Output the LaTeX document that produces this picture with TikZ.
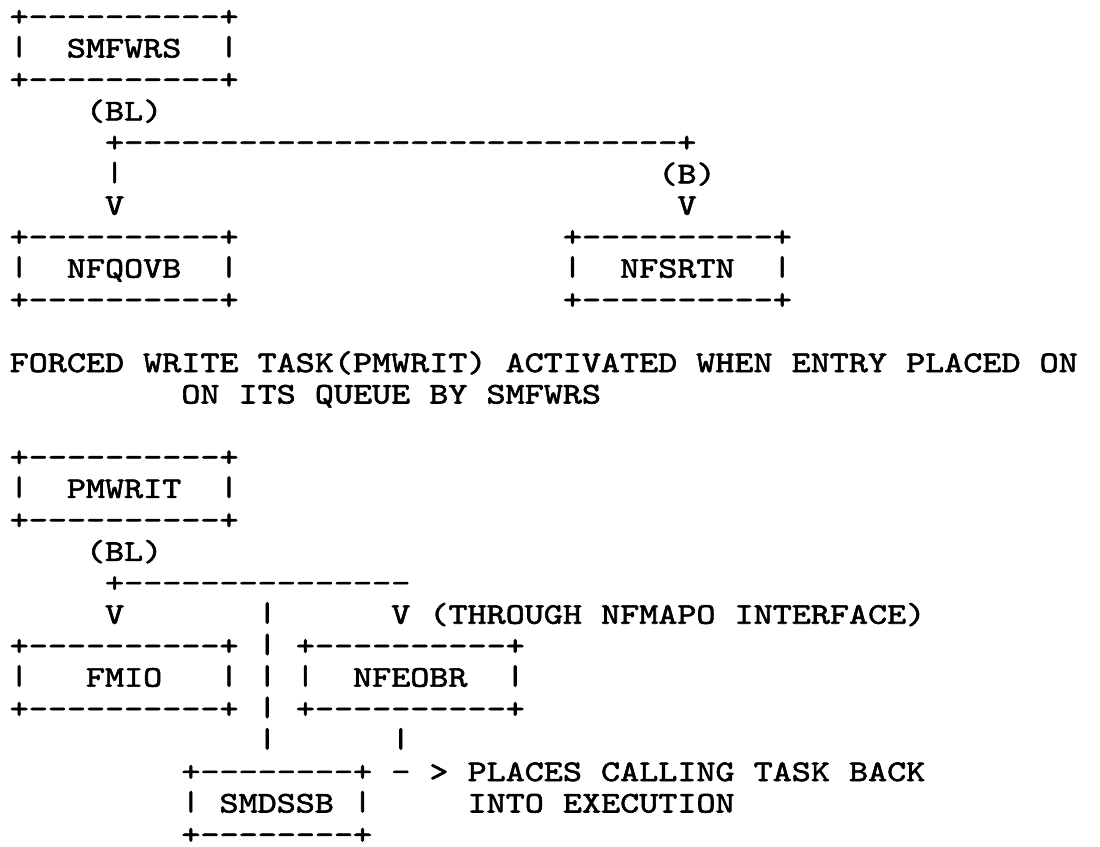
\documentclass[tikz,border=0pt]{standalone}
\usepackage{fontspec}
\usepackage{graphicx}
\setmonofont{lmmono10-regular.otf}[FakeStretch=1.211, FakeBold=2]
% short typewriter bar
\newcommand\vbar{\raisebox{\depth}{\scalebox{1}[0.92]{|}}}
\tikzset{
  tw/.style={anchor=base west, inner sep=0pt, text depth=0pt,
    font=\ttfamily\fontsize{30}{31.46}\selectfont}
}
\begin{document}
\begin{tikzpicture}[x=19.08pt, y=-31.46pt]
    \useasboundingbox (-9.46pt,26pt) rectangle (1090.54pt,-820pt);
    % SMFWRS box
    \node[tw] (smfwrs-top) at (0,0) {+----------+};
    \node[tw] (smfwrs) at (0,1) {\vbar\ \ SMFWRS\ \ \vbar};
    \node[tw] (smfwrs-bot) at (0,2) {+----------+};
    % branch to NFQOVB and NFSRTN
    \node[tw] (bl1) at (4,3) {(BL)};
    \node[tw] (split1) at (5,4) {+-----------------------------+};
    \node[tw] (stem1) at (5,5) {\vbar};
    \node[tw] (b1) at (34,5) {(B)};
    \node[tw] (arr1) at (5,6) {V};
    \node[tw] (arr2) at (35,6) {V};
    % NFQOVB box
    \node[tw] (nfqovb-top) at (0,7) {+----------+};
    \node[tw] (nfqovb) at (0,8) {\vbar\ \ NFQOVB\ \ \vbar};
    \node[tw] (nfqovb-bot) at (0,9) {+----------+};
    % NFSRTN box
    \node[tw] (nfsrtn-top) at (29,7) {+----------+};
    \node[tw] (nfsrtn) at (29,8) {\vbar\ \ NFSRTN\ \ \vbar};
    \node[tw] (nfsrtn-bot) at (29,9) {+----------+};
    % Note
    \node[tw] (note1) at (0,11) {FORCED WRITE TASK(PMWRIT) ACTIVATED WHEN ENTRY PLACED ON};
    \node[tw] (note2) at (9,12) {ON ITS QUEUE BY SMFWRS};
    % PMWRIT box
    \node[tw] (pmwrit-top) at (0,14) {+----------+};
    \node[tw] (pmwrit) at (0,15) {\vbar\ \ PMWRIT\ \ \vbar};
    \node[tw] (pmwrit-bot) at (0,16) {+----------+};
    % branch to FMIO and NFEOBR
    \node[tw] (bl2) at (4,17) {(BL)};
    \node[tw] (split2) at (5,18) {+---------------};
    \node[tw] (arr3) at (5,19) {V};
    \node[tw] (arr4) at (20,19) {V (THROUGH NFMAPO INTERFACE)};
    \foreach \r in {19,...,23}
      \node[tw] (link\r) at (13,\r) {\vbar};
    % FMIO box
    \node[tw] (fmio-top) at (0,20) {+----------+};
    \node[tw] (fmio) at (0,21) {\vbar\ \ \ FMIO\ \ \ \vbar};
    \node[tw] (fmio-bot) at (0,22) {+----------+};
    % NFEOBR box
    \node[tw] (nfeobr-top) at (15,20) {+----------+};
    \node[tw] (nfeobr) at (15,21) {\vbar\ \ NFEOBR\ \ \vbar};
    \node[tw] (nfeobr-bot) at (15,22) {+----------+};
    \node[tw] (stem2) at (20,23) {\vbar};
    % SMDSSB box
    \node[tw] (smdssb-top) at (9,24) {+--------+};
    \node[tw] (smdssb) at (9,25) {\vbar\ SMDSSB\ \vbar};
    \node[tw] (smdssb-bot) at (9,26) {+--------+};
    \node[tw] (back1) at (20,24) {- > PLACES CALLING TASK BACK};
    \node[tw] (back2) at (24,25) {INTO EXECUTION};
\end{tikzpicture}
\end{document}
